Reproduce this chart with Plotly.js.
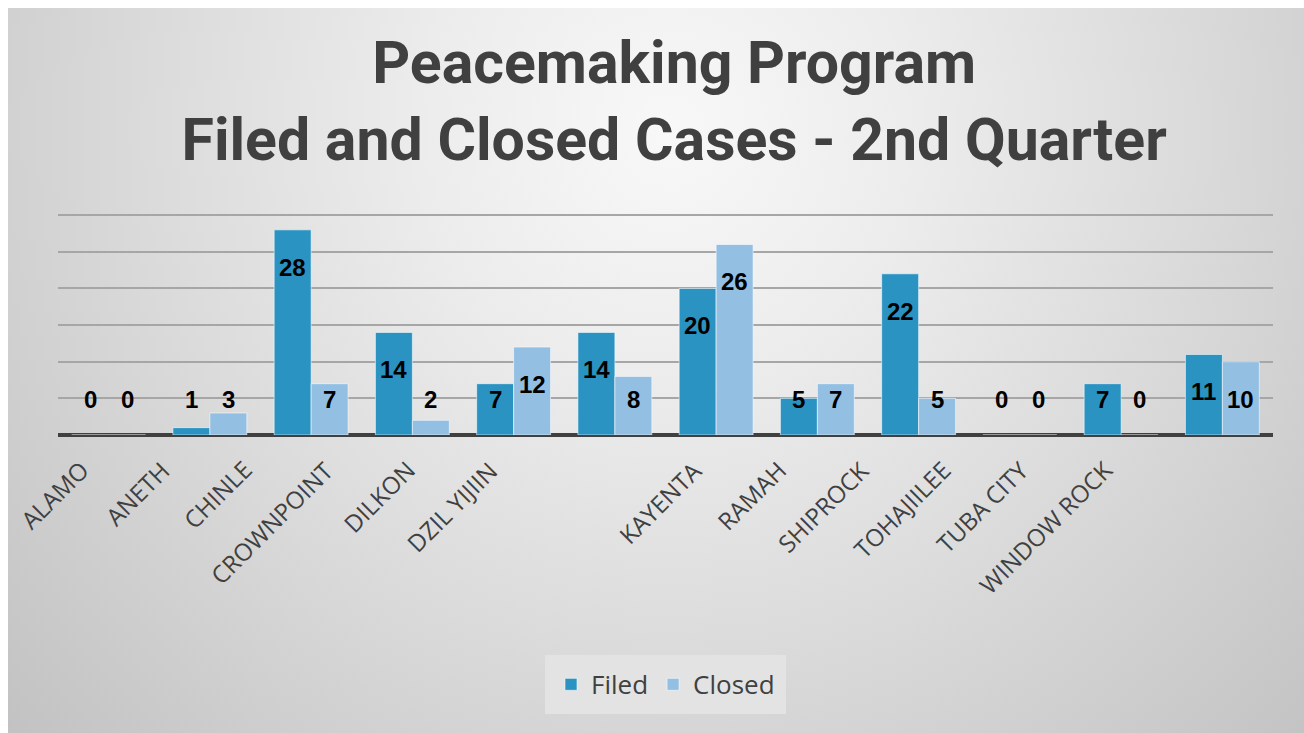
<!DOCTYPE html>
<html>
<head>
<meta charset="utf-8">
<script src="https://cdn.plot.ly/plotly-3.0.1.min.js"></script>
<style>
  html, body { margin: 0; padding: 0; background: #ffffff; }
  #grafico {
    position: absolute; left: 8px; top: 8px; width: 1296px; height: 725px;
    background: radial-gradient(circle farthest-corner at 51% 17%, #f8f8f8 0%, #ececec 28%, #dbdbdb 58%, #c2c2c2 100%);
  }
</style>
</head>
<body>
<div id="grafico"></div>
<script>
const categorias = ['ALAMO', 'ANETH', 'CHINLE', 'CROWNPOINT', 'DILKON', 'DZIL YIJIIN',
  'KAYENTA', 'RAMAH', 'SHIPROCK', 'TOHAJIILEE', 'TUBA CITY', 'WINDOW ROCK'];
const filed = [0, 1, 28, 14, 7, 14, 20, 5, 22, 0, 7, 11];
const closed = [0, 3, 7, 2, 12, 8, 26, 7, 5, 0, 0, 10];

// horizontal nudge (px) of each rotated category label, as laid out in the original
const deslocRotulo = [-10, -31, -50, -70, -89, -108, -5, -22, -40, -60, -83, -101];

const corFiled = '#2b93c2';
const corClosed = '#93bfe3';

const traceFiled = {
  x: categorias, y: filed, type: 'bar', name: 'Filed',
  marker: { color: corFiled, line: { color: 'rgba(255,255,255,0.55)', width: 1 } },
  hoverinfo: 'x+y'
};
const traceClosed = {
  x: categorias, y: closed, type: 'bar', name: 'Closed',
  marker: { color: corClosed, line: { color: 'rgba(255,255,255,0.55)', width: 1 } },
  hoverinfo: 'x+y'
};

const fonteRotulo = { family: 'Liberation Sans, Arial, sans-serif', size: 24, color: '#000000', weight: 'bold' };

// data labels sit a little below the bar top, with a floor near the 5 line
function rotulo(c, v, shift) {
  return {
    x: c, y: Math.max(v - 5.1, 4.8), text: String(v), showarrow: false,
    xref: 'x', yref: 'y', xshift: shift, yanchor: 'middle', font: fonteRotulo
  };
}
const anotacoes = [];
categorias.forEach((c, i) => {
  anotacoes.push(rotulo(c, filed[i], -18.5));
  anotacoes.push(rotulo(c, closed[i], 18.5));
  anotacoes.push({
    x: c, y: 0, xref: 'x', yref: 'y', text: c, showarrow: false,
    textangle: -45, xanchor: 'right', yanchor: 'top',
    xshift: deslocRotulo[i], yshift: -16,
    font: { family: 'Open Sans, sans-serif', size: 24, color: '#404040' }
  });
});

const layout = {
  width: 1296, height: 725,
  margin: { l: 50, r: 31, t: 205, b: 298 },
  paper_bgcolor: 'rgba(0,0,0,0)',
  plot_bgcolor: 'rgba(0,0,0,0)',
  title: {
    text: 'Peacemaking Program<br>Filed and Closed Cases - 2nd Quarter',
    x: 0.514, xanchor: 'center', y: 0.896, yanchor: 'top', yref: 'container',
    font: { family: 'Roboto, sans-serif', size: 59, color: '#404040', weight: 'bold' }
  },
  barmode: 'group',
  bargap: 0.27,
  bargroupgap: 0,
  xaxis: {
    type: 'category', range: [-0.5, categorias.length - 0.5], autorange: false,
    showticklabels: false,
    showgrid: false, showline: false, ticks: ''
  },
  yaxis: {
    range: [0, 30.3], autorange: false, dtick: 5, showticklabels: false,
    showgrid: true, gridcolor: '#a6a6a6', gridwidth: 2,
    zeroline: true, zerolinecolor: '#404040', zerolinewidth: 4
  },
  showlegend: true,
  legend: {
    orientation: 'h', x: 0.5, xanchor: 'center', y: 0.067, yanchor: 'middle', yref: 'container',
    bgcolor: '#e3e3e3', bordercolor: '#e3e3e3', borderwidth: 6,
    font: { family: 'Open Sans, sans-serif', size: 26, color: '#404040' }
  },
  annotations: anotacoes
};

Plotly.newPlot('grafico', [traceFiled, traceClosed], layout, { displayModeBar: false });
</script>
</body>
</html>
